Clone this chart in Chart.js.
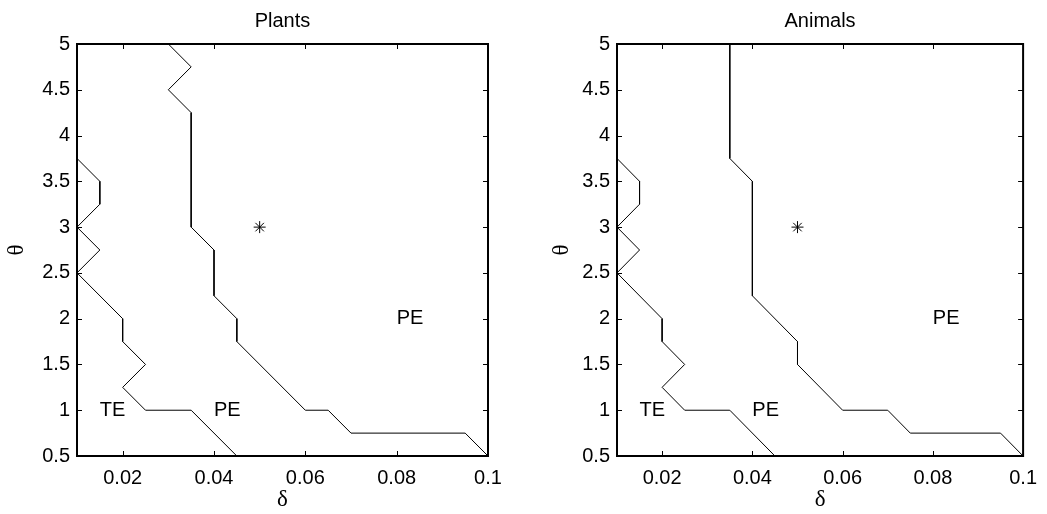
<!DOCTYPE html>
<html>
<head>
<meta charset="utf-8">
<script src="https://cdn.jsdelivr.net/npm/chart.js@4"></script>
<style>
  body { margin: 0; background: #fff; }
  #wrap { position: relative; width: 1047px; height: 514px; }
  #wrap canvas { position: absolute; top: 0; }
</style>
</head>
<body>
<div id="wrap">
  <canvas id="plants" width="540" height="514" style="left:0"></canvas>
  <canvas id="animals" width="507" height="514" style="left:540px"></canvas>
</div>
<script>
// tick values
const xTicks = [0.02, 0.04, 0.06, 0.08, 0.1];
const yTicks = [0.5, 1, 1.5, 2, 2.5, 3, 3.5, 4, 4.5, 5];

// Plants boundaries
const plantsTE_x = [0.01, 0.015, 0.015, 0.01, 0.015, 0.01, 0.02, 0.02, 0.025, 0.02, 0.025, 0.035, 0.045];
const plantsTE_y = [3.75, 3.5, 3.25, 3.0, 2.75, 2.5, 2.0, 1.75, 1.5, 1.25, 1.0, 1.0, 0.5];
const plantsPE_x = [0.03, 0.035, 0.03, 0.035, 0.035, 0.04, 0.04, 0.045, 0.045, 0.06, 0.065, 0.07, 0.095, 0.1];
const plantsPE_y = [5, 4.75, 4.5, 4.25, 3.0, 2.75, 2.25, 2.0, 1.75, 1.0, 1.0, 0.75, 0.75, 0.5];

// Animals boundaries
const animalsTE_x = [0.01, 0.015, 0.015, 0.01, 0.015, 0.01, 0.02, 0.02, 0.025, 0.02, 0.025, 0.035, 0.045];
const animalsTE_y = [3.75, 3.5, 3.25, 3.0, 2.75, 2.5, 2.0, 1.75, 1.5, 1.25, 1.0, 1.0, 0.5];
const animalsPE_x = [0.035, 0.035, 0.04, 0.04, 0.05, 0.05, 0.06, 0.07, 0.075, 0.095, 0.1];
const animalsPE_y = [5, 3.75, 3.5, 2.25, 1.75, 1.5, 1.0, 1.0, 0.75, 0.75, 0.5];

// marked point
const starX = [0.05];
const starY = [3];

// region labels
const labelText = ['TE', 'PE', 'PE'];
const labelX = [0.015, 0.04, 0.08];
const labelY = [1, 1, 2];

Chart.defaults.font.family = "'Liberation Sans', Arial, sans-serif";
Chart.defaults.font.size = 20;
Chart.defaults.color = '#000';

function pts(xs, ys) {
  return xs.map((x, i) => ({ x: x, y: ys[i] }));
}

// box frame, inward ticks and region labels
const boxPlugin = {
  id: 'box',
  afterDraw(chart) {
    const ctx = chart.ctx;
    const a = chart.chartArea;
    const xs = chart.scales.x, ys = chart.scales.y;
    ctx.save();
    ctx.strokeStyle = '#000';
    ctx.lineWidth = 1;
    ctx.beginPath();
    xs.ticks.forEach(t => {
      const px = Math.round(xs.getPixelForValue(t.value)) + 0.5;
      ctx.moveTo(px, a.bottom); ctx.lineTo(px, a.bottom - 5);
      ctx.moveTo(px, a.top); ctx.lineTo(px, a.top + 5);
    });
    ys.ticks.forEach(t => {
      const py = Math.round(ys.getPixelForValue(t.value)) + 0.5;
      ctx.moveTo(a.left, py); ctx.lineTo(a.left + 5, py);
      ctx.moveTo(a.right, py); ctx.lineTo(a.right - 5, py);
    });
    ctx.stroke();
    ctx.lineWidth = 2;
    ctx.strokeRect(a.left, a.top, a.right - a.left, a.bottom - a.top);
    ctx.fillStyle = '#000';
    ctx.font = "20px 'Liberation Sans', Arial, sans-serif";
    ctx.textAlign = 'left';
    ctx.textBaseline = 'middle';
    labelText.forEach((s, i) => {
      ctx.fillText(s, xs.getPixelForValue(labelX[i]), ys.getPixelForValue(labelY[i]));
    });
    ctx.restore();
  }
};

function makePanel(id, title, teX, teY, peX, peY, yWidth, thetaPad, rightPad) {
  const line = (data) => ({
    type: 'line',
    data: data,
    borderColor: '#000',
    borderWidth: 1,
    pointRadius: 0,
    tension: 0,
    fill: false
  });
  new Chart(document.getElementById(id), {
    type: 'scatter',
    data: {
      datasets: [
        line(pts(teX, teY)),
        line(pts(peX, peY)),
        {
          data: pts(starX, starY),
          pointStyle: 'star',
          pointRadius: 6,
          borderColor: '#000',
          borderWidth: 1,
          backgroundColor: '#000'
        }
      ]
    },
    options: {
      responsive: false,
      animation: false,
      devicePixelRatio: 1,
      layout: { padding: { left: 0, right: rightPad, top: 0, bottom: 0 } },
      plugins: {
        legend: { display: false },
        tooltip: { enabled: false },
        title: {
          display: true,
          text: title,
          fullSize: false,
          color: '#000',
          font: { size: 20, weight: 'normal' },
          padding: { top: 9, bottom: 11 }
        }
      },
      scales: {
        x: {
          type: 'linear',
          min: 0.01,
          max: 0.1,
          grid: { display: false, drawTicks: false },
          border: { display: false },
          afterBuildTicks: s => { s.ticks = xTicks.map(v => ({ value: v })); },
          afterFit: s => { s.height = 58; },
          ticks: { padding: 10, maxRotation: 0, callback: v => String(v) },
          title: {
            display: true,
            text: 'δ',
            font: { family: "'Liberation Serif', 'Times New Roman', serif", size: 23 },
            padding: { top: 0, bottom: 0 }
          }
        },
        y: {
          type: 'linear',
          min: 0.5,
          max: 5,
          grid: { display: false, drawTicks: false },
          border: { display: false },
          afterBuildTicks: s => { s.ticks = yTicks.map(v => ({ value: v })); },
          afterFit: s => { s.width = yWidth; },
          ticks: { padding: 7, callback: v => String(v) },
          title: {
            display: true,
            text: 'θ',
            font: { family: "'Liberation Serif', 'Times New Roman', serif", size: 23 },
            padding: { top: thetaPad, bottom: 0 }
          }
        }
      }
    },
    plugins: [boxPlugin]
  });
}

makePanel('plants', 'Plants', plantsTE_x, plantsTE_y, plantsPE_x, plantsPE_y, 77, 3, 52);
makePanel('animals', 'Animals', animalsTE_x, animalsTE_y, animalsPE_x, animalsPE_y, 77, 8, 18);
</script>
</body>
</html>
